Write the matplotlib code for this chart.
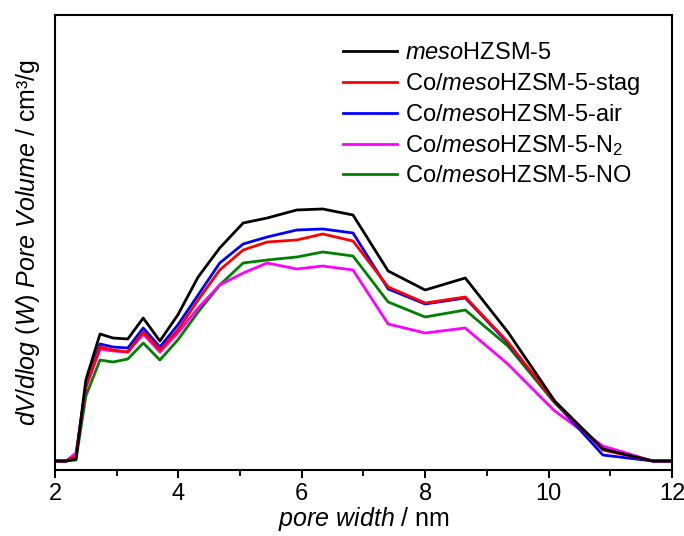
import matplotlib
matplotlib.use("Agg")
import numpy as np
import matplotlib.pyplot as plt
from matplotlib.ticker import MultipleLocator

plt.rcParams['font.family'] = ['Liberation Sans', 'DejaVu Sans']
plt.rcParams['mathtext.fontset'] = 'custom'
plt.rcParams['mathtext.rm'] = 'Liberation Sans'
plt.rcParams['mathtext.it'] = 'Liberation Sans:italic'

# pore width (nm)
pore_width = [2.0, 2.18, 2.34, 2.50, 2.73, 2.94, 3.18, 3.43, 3.70, 3.99, 4.32, 4.67,
              5.05, 5.44, 5.92, 6.34, 6.83, 7.40, 8.00, 8.65, 9.34, 10.10, 10.88, 11.69, 12.0]

# dV/dlog(W), arbitrary units (x1e-3)
meso = [0, 0, 2, 81, 127, 123, 122, 143, 120, 146, 184, 213,
        238, 243, 251, 252, 246, 190, 171, 183, 129, 60, 12, 0, 0]
stag = [0, 0, 5, 75, 114, 111, 109, 129, 111, 131, 161, 191,
        211, 219, 221, 227, 220, 174, 158, 164, 119, 59, 11, 0, 0]
air = [0, 0, 4, 76, 117, 114, 113, 133, 114, 136, 166, 198,
       217, 224, 231, 232, 228, 172, 157, 163, 118, 59, 6, 0, 0]
n2 = [0, 0, 8, 73, 112, 110, 109, 127, 109, 128, 153, 176,
      188, 198, 192, 195, 191, 137, 128, 133, 97, 50, 15, 0, 0]
no = [0, 0, 1, 65, 101, 99, 102, 118, 101, 121, 149, 176,
      198, 201, 204, 209, 205, 159, 144, 151, 115, 58, 13, 0, 0]

series = [
    (meso, 'black', r'$\mathit{meso}$HZSM-5'),
    (stag, '#ff0000', r'Co/$\mathit{meso}$HZSM-5-stag'),
    (air, '#0000ff', r'Co/$\mathit{meso}$HZSM-5-air'),
    (n2, '#ff00ff', r'Co/$\mathit{meso}$HZSM-5-N$_2$'),
    (no, '#008000', r'Co/$\mathit{meso}$HZSM-5-NO'),
]

fig = plt.figure(figsize=(6.84, 5.36), dpi=100)
ax = fig.add_axes([0.0804, 0.1231, 0.902, 0.849])

# draw in reverse so black ends on top
for vals, col, lab in series[::-1]:
    ax.plot(pore_width, np.array(vals) / 1000.0, color=col, lw=2.0, label=lab)

ax.set_xlim(2, 12)
ax.set_ylim(-0.009, 0.446)
ax.xaxis.set_major_locator(MultipleLocator(2))
ax.xaxis.set_minor_locator(MultipleLocator(1))
ax.tick_params(axis='x', which='major', direction='out', length=6, width=1.4,
               labelsize=17, pad=3, top=False)
ax.tick_params(axis='x', which='minor', direction='out', length=4, width=1.3, top=False)
ax.set_yticks([])
for sp in ax.spines.values():
    sp.set_linewidth(1.5)

ax.set_xlabel(r'$\mathit{pore\ width}$ / nm', fontsize=18, labelpad=0)
ax.set_ylabel(r'$\mathit{dV/dlog\ (W)\ Pore\ Volume}$ / cm³/g', fontsize=18, labelpad=9)

handles, labels = ax.get_legend_handles_labels()
ax.legend(handles[::-1], labels[::-1], loc='upper left', bbox_to_anchor=(0.467, 0.94),
          frameon=False, fontsize=17, handlelength=2.3, handletextpad=0.3,
          labelspacing=0.3, borderpad=0, borderaxespad=0)

fig.savefig('out.png', dpi=100)
print("saved out.png")
